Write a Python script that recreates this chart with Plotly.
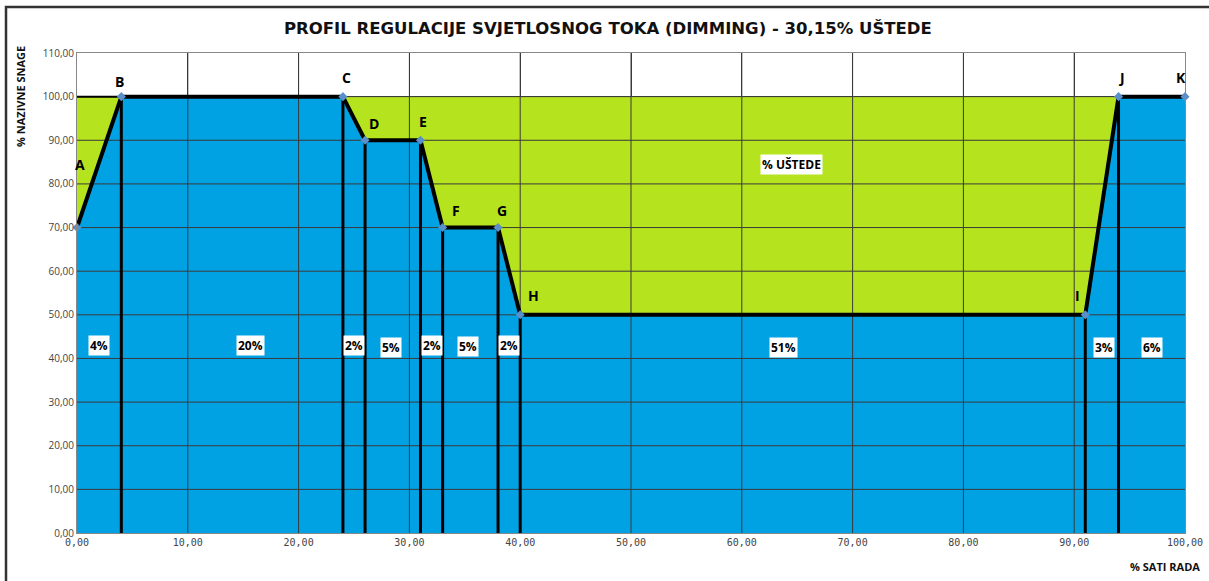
import plotly.graph_objects as go

# Profile points
point_names = ["A", "B", "C", "D", "E", "F", "G", "H", "I", "J", "K"]
x_hours = [0, 4, 24, 26, 31, 33, 38, 40, 91, 94, 100]
y_power = [70, 100, 100, 90, 90, 70, 70, 50, 50, 100, 100]

# Segment share labels
segment_labels = ["4%", "20%", "2%", "5%", "2%", "5%", "2%", "51%", "3%", "6%"]
segment_label_x = [2, 15.7, 25, 28.3, 32, 35.3, 39, 63.8, 92.7, 97]
segment_label_y = [43, 43, 43, 42.5, 43, 42.7, 43, 42.5, 42.5, 42.5]

# Point label offsets (data units)
label_dx = [0.3, -0.2, 0.3, 0.8, 0.2, 1.2, 0.4, 1.2, -0.7, 0.3, -0.4]
label_dy = [14.5, 3.5, 4.5, 3.8, 4.3, 3.8, 4.0, 4.4, 4.5, 4.3, 4.3]

savings_label = "% UŠTEDE"
savings_x = 64.5
savings_y = 84.5

title = "PROFIL REGULACIJE SVJETLOSNOG TOKA (DIMMING) - 30,15% UŠTEDE"
x_title = "% SATI RADA"
y_title = "% NAZIVNE SNAGE"

x_ticks = list(range(0, 101, 10))
y_ticks = list(range(0, 111, 10))

GREEN = "#B5E31E"
BLUE = "#00A2E4"
GRID = "#3a3a3a"

fig = go.Figure()

# Green savings area (up to 100%)
fig.add_trace(go.Scatter(x=[x_hours[0], x_hours[-1]], y=[100, 100], mode="lines",
                         line=dict(width=0, color=GREEN), fill="tozeroy",
                         fillcolor=GREEN, hoverinfo="skip", showlegend=False))
# Blue consumed area
fig.add_trace(go.Scatter(x=x_hours, y=y_power, mode="lines",
                         line=dict(width=0, color=BLUE), fill="tozeroy",
                         fillcolor=BLUE, hoverinfo="skip", showlegend=False))

# Grid lines drawn over fills
gx, gy = [], []
for t in x_ticks[1:-1]:
    gx += [t, t, None]
    gy += [0, 110, None]
for t in y_ticks[1:-1]:
    gx += [0, 100, None]
    gy += [t, t, None]
fig.add_trace(go.Scatter(x=gx, y=gy, mode="lines", line=dict(width=1, color=GRID),
                         hoverinfo="skip", showlegend=False))

# Vertical dividers from axis to profile
vx, vy = [], []
for xv, yv in zip(x_hours[1:-1], y_power[1:-1]):
    vx += [xv, xv, None]
    vy += [0, yv, None]
fig.add_trace(go.Scatter(x=vx, y=vy, mode="lines", line=dict(width=3, color="black"),
                         hoverinfo="skip", showlegend=False))

# Top line from 0 at 100 (the border of the green area)
fig.add_trace(go.Scatter(x=[x_hours[0], x_hours[1]], y=[100, 100], mode="lines",
                         line=dict(width=2, color="black"), hoverinfo="skip", showlegend=False))

# Profile line
fig.add_trace(go.Scatter(x=x_hours, y=y_power, mode="lines+markers",
                         line=dict(width=4, color="black"),
                         marker=dict(symbol="diamond", size=7, color="#5B8FC9"),
                         cliponaxis=False, showlegend=False))

annotations = []
for name, xv, yv, dx, dy in zip(point_names, x_hours, y_power, label_dx, label_dy):
    annotations.append(dict(x=xv + dx, y=yv + dy, text=f"<b>{name}</b>", showarrow=False,
                            font=dict(size=14, color="black", family="Open Sans")))
for lab, xv, yv in zip(segment_labels, segment_label_x, segment_label_y):
    annotations.append(dict(x=xv, y=yv, text=f"<b>{lab}</b>", showarrow=False,
                            bgcolor="white", borderpad=1,
                            font=dict(size=12, color="black", family="Open Sans")))
annotations.append(dict(x=savings_x, y=savings_y, text=f"<b>{savings_label}</b>", showarrow=False,
                        bgcolor="white", borderpad=1,
                        font=dict(size=12, color="black", family="Open Sans")))
annotations.append(dict(x=(608 - 77) / 1108, y=(533 - 28) / 480, xref="paper", yref="paper",
                        xanchor="center", yanchor="middle", text=f"<b>{title}</b>",
                        showarrow=False,
                        font=dict(size=16.5, color="#111", family="DejaVu Sans")))
annotations.append(dict(x=(1165 - 77) / 1108, y=(533 - 566) / 480, xref="paper", yref="paper",
                        xanchor="center", yanchor="middle",
                        text=f"<b>{x_title}</b>", showarrow=False,
                        font=dict(size=11, color="#111", family="Open Sans")))
annotations.append(dict(x=(20 - 77) / 1108, y=(533 - 97) / 480, xref="paper", yref="paper",
                        xanchor="center", yanchor="middle",
                        text=f"<b>{y_title}</b>", showarrow=False, textangle=-90,
                        font=dict(size=11, color="#111", family="Open Sans")))

fig.update_layout(
    width=1209, height=581,
    margin=dict(l=77, r=24, t=53, b=48, autoexpand=False),
    paper_bgcolor="white", plot_bgcolor="white",
    separators=",.",
    annotations=annotations,
    shapes=[dict(type="rect", xref="paper", yref="paper",
                 x0=(6 - 77) / 1108, x1=(1230 - 77) / 1108,
                 y0=(533 - 600) / 480, y1=(533 - 7) / 480,
                 line=dict(color="#333", width=2.5), layer="below")],
    xaxis=dict(range=[0, 100], tickvals=x_ticks, tickformat=".2f", showgrid=True,
               gridcolor=GRID, gridwidth=1, zeroline=False, showline=True,
               linecolor="#888", linewidth=1, mirror=True, ticks="", automargin=False,
               tickfont=dict(size=10, color="#444", family="DejaVu Sans Mono")),
    yaxis=dict(range=[0, 110], tickvals=y_ticks, tickformat=".2f", showgrid=True,
               gridcolor=GRID, gridwidth=1, zeroline=False, showline=True,
               linecolor="#888", linewidth=1, mirror=True, ticks="", automargin=False,
               tickfont=dict(size=10, color="#444", family="Open Sans")),
)

fig.write_html("out.html", config={"displayModeBar": False},
               post_script="document.body.style.margin='0';")
